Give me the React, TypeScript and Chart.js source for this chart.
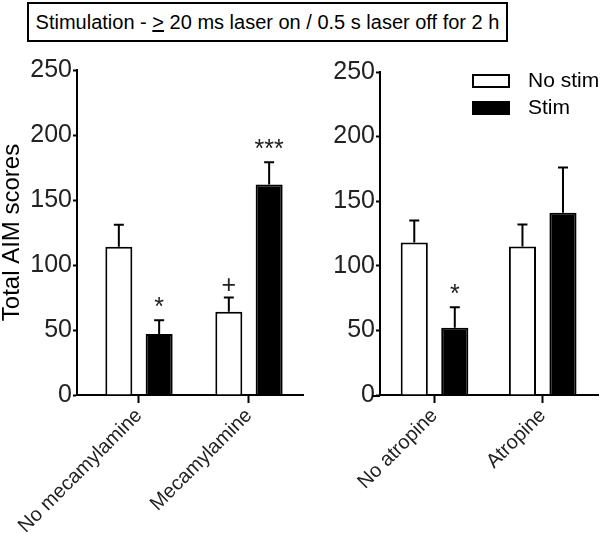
import React, { useEffect, useRef } from "react";
import { Chart, registerables } from "chart.js";

Chart.register(...registerables);

const FONT = "'Liberation Sans', Arial, Helvetica, sans-serif";

const seriesLabels = ["No stim", "Stim"];
const titleBefore = "Stimulation - ";
const titleSymbol = ">";
const titleAfter = " 20 ms laser on / 0.5 s laser off for 2 h";
const yTitle = "Total AIM scores";

const leftCategories = ["No mecamylamine", "Mecamylamine"];
const leftNoStim = [114, 64];
const leftNoStimErr = [17, 11];
const leftStim = [47, 162];
const leftStimErr = [10.5, 17];
const leftNoStimMarks = ["", "+"];
const leftStimMarks = ["*", "***"];

const rightCategories = ["No atropine", "Atropine"];
const rightNoStim = [118, 115];
const rightNoStimErr = [17, 17];
const rightStim = [52, 141];
const rightStimErr = [16, 35];
const rightNoStimMarks = ["", ""];
const rightStimMarks = ["*", ""];

const yMin = 0;
const yMax = 250;
const yStep = 50;

const errorPlugin = {
  id: "errorBars",
  afterDatasetsDraw(chart: any) {
    const ctx = chart.ctx;
    const yScale = chart.scales.y;
    chart.data.datasets.forEach((ds: any, di: number) => {
      const meta = chart.getDatasetMeta(di);
      meta.data.forEach((bar: any, i: number) => {
        const v = ds.data[i].y;
        const e = ds.errors[i];
        const yTop = yScale.getPixelForValue(v + e);
        const yBar = yScale.getPixelForValue(v);
        ctx.save();
        ctx.strokeStyle = "#000";
        ctx.lineWidth = 2;
        ctx.beginPath();
        ctx.moveTo(bar.x, yBar);
        ctx.lineTo(bar.x, yTop);
        ctx.moveTo(bar.x - 5, yTop);
        ctx.lineTo(bar.x + 5, yTop);
        ctx.stroke();
        const mark = ds.marks[i];
        if (mark) {
          ctx.fillStyle = "#222";
          ctx.font = "25px " + FONT;
          ctx.textAlign = "center";
          ctx.textBaseline = "alphabetic";
          ctx.fillText(mark, bar.x, yTop - 5);
        }
        ctx.restore();
      });
    });
    const ext = chart.options.plugins.customLegend?.axisExtend || 0;
    if (ext > 0) {
      const a = chart.chartArea;
      ctx.save();
      ctx.strokeStyle = "#000";
      ctx.lineWidth = 2;
      ctx.beginPath();
      ctx.moveTo(a.left - ext, a.bottom + 1);
      ctx.lineTo(a.left, a.bottom + 1);
      ctx.stroke();
      ctx.restore();
    }
  },
};

const legendPlugin = {
  id: "customLegend",
  afterDraw(chart: any) {
    if (!chart.options.plugins.customLegend?.show) return;
    const ctx = chart.ctx;
    const bx = 168;
    const rows = [81, 108];
    ctx.save();
    chart.data.datasets.forEach((ds: any, i: number) => {
      const cy = rows[i];
      ctx.fillStyle = ds.backgroundColor;
      ctx.fillRect(bx, cy - 6, 36, 12);
      ctx.strokeStyle = "#000";
      ctx.lineWidth = 2;
      ctx.strokeRect(bx, cy - 6, 36, 12);
      ctx.fillStyle = "#000";
      ctx.font = "21px " + FONT;
      ctx.textAlign = "left";
      ctx.textBaseline = "middle";
      ctx.fillText(ds.label, bx + 55, cy);
    });
    ctx.restore();
  },
};

type PanelProps = {
  left: number;
  width: number;
  categories: string[];
  noStim: number[];
  noStimErr: number[];
  noStimMarks: string[];
  stim: number[];
  stimErr: number[];
  stimMarks: string[];
  yAxisWidth: number;
  xMin: number;
  xMax: number;
  catPct: number;
  topPad: number;
  showTitle: boolean;
  showLegend: boolean;
  axisExtend: number;
};

function Panel(p: PanelProps) {
  const ref = useRef<HTMLCanvasElement>(null);
  useEffect(() => {
    if (!ref.current) return;
    const chart = new Chart(ref.current, {
      type: "bar",
      data: {
        datasets: [
          {
            label: seriesLabels[0],
            data: p.noStim.map((v, i) => ({ x: i, y: v })),
            backgroundColor: "#ffffff",
            borderColor: "#000000",
            borderWidth: 2,
            borderSkipped: "bottom",
            categoryPercentage: p.catPct,
            barPercentage: 0.67,
            errors: p.noStimErr,
            marks: p.noStimMarks,
          } as any,
          {
            label: seriesLabels[1],
            data: p.stim.map((v, i) => ({ x: i, y: v })),
            backgroundColor: "#000000",
            borderColor: "#000000",
            borderWidth: 2,
            borderSkipped: "bottom",
            categoryPercentage: p.catPct,
            barPercentage: 0.67,
            errors: p.stimErr,
            marks: p.stimMarks,
          } as any,
        ],
      },
      options: {
        responsive: false,
        animation: false,
        layout: { padding: { top: p.topPad, right: 2, left: 0, bottom: 0 } },
        plugins: {
          legend: { display: false },
          tooltip: { enabled: false },
          customLegend: { show: p.showLegend, axisExtend: p.axisExtend },
        } as any,
        scales: {
          x: {
            type: "linear",
            min: p.xMin,
            max: p.xMax,
            offset: false,
            afterBuildTicks: (scale: any) => {
              scale.ticks = p.categories.map((_, i) => ({ value: i }));
            },
            afterFit: (scale: any) => {
              scale.height = 534 - 395;
              scale.paddingLeft = 0;
              scale.paddingRight = 0;
            },
            grid: {
              offset: false,
              drawOnChartArea: false,
              drawTicks: true,
              tickLength: 8,
              tickWidth: 2,
              tickColor: "#000",
            },
            border: { display: true, color: "#000", width: 2 },
            ticks: {
              autoSkip: false,
              minRotation: 45,
              maxRotation: 45,
              padding: 1,
              color: "#222",
              font: { family: FONT, size: 20 },
              callback: (v: any) => p.categories[v as number] ?? "",
            },
          },
          y: {
            min: yMin,
            max: yMax,
            afterFit: (scale: any) => {
              scale.width = p.yAxisWidth;
              scale.paddingTop = 0;
              scale.paddingBottom = 0;
            },
            grid: {
              drawOnChartArea: false,
              drawTicks: true,
              tickLength: 4,
              tickWidth: 2,
              tickColor: "#000",
            },
            border: { display: true, color: "#000", width: 2 },
            ticks: {
              stepSize: yStep,
              padding: 1,
              color: "#222",
              font: { family: FONT, size: 25 },
            },
            title: {
              display: p.showTitle,
              text: yTitle,
              color: "#000",
              padding: { top: -2, bottom: 0 },
              font: { family: FONT, size: 24 },
            },
          },
        },
      } as any,
      plugins: [errorPlugin, legendPlugin],
    });
    return () => chart.destroy();
  }, []);
  return (
    <canvas
      ref={ref}
      width={p.width}
      height={534}
      style={{ position: "absolute", left: p.left, top: 0, width: p.width, height: 534 }}
    />
  );
}

export default function App() {
  return (
    <div
      style={{
        position: "absolute",
        left: 0,
        top: 0,
        width: 600,
        height: 534,
        background: "#fff",
        overflow: "hidden",
        fontFamily: FONT,
      }}
    >
      <Panel
        left={0}
        width={305}
        categories={leftCategories}
        noStim={leftNoStim}
        noStimErr={leftNoStimErr}
        noStimMarks={leftNoStimMarks}
        stim={leftStim}
        stimErr={leftStimErr}
        stimMarks={leftStimMarks}
        yAxisWidth={77}
        xMin={-0.5636}
        xMax={1.491}
        catPct={0.733}
        topPad={70}
        showTitle={true}
        showLegend={false}
        axisExtend={0}
      />
      <Panel
        left={305}
        width={295}
        categories={rightCategories}
        noStim={rightNoStim}
        noStimErr={rightNoStimErr}
        noStimMarks={rightNoStimMarks}
        stim={rightStim}
        stimErr={rightStimErr}
        stimMarks={rightStimMarks}
        yAxisWidth={75}
        xMin={-0.504}
        xMax={1.511}
        catPct={0.749}
        topPad={72}
        showTitle={false}
        showLegend={true}
        axisExtend={8}
      />
      <div
        style={{
          position: "absolute",
          left: 27,
          top: 2,
          width: 477,
          height: 36,
          border: "2px solid #000",
          background: "#fff",
          display: "flex",
          alignItems: "center",
          justifyContent: "center",
          fontSize: 20,
          color: "#000",
          whiteSpace: "nowrap",
        }}
      >
        <span>
          {titleBefore}
          <span style={{ textDecoration: "underline" }}>{titleSymbol}</span>
          {titleAfter}
        </span>
      </div>
    </div>
  );
}
